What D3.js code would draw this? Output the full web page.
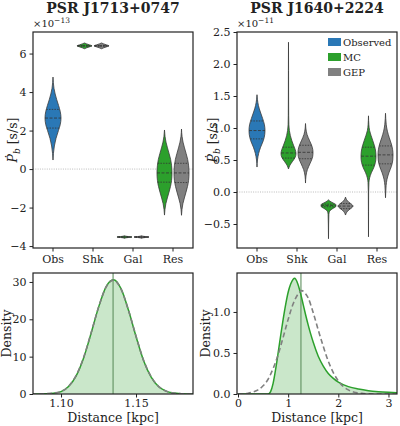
<!DOCTYPE html>
<html lang="en">
<head>
<meta charset="UTF-8">
<title>Pdot_b budget and distance PDFs</title>
<style>
  body { margin: 0; background: #fff; }
  svg text { font-family: "DejaVu Serif", serif; fill: #222; }
  .axis line { stroke: #222; stroke-width: 1; }
  .axis text { font-size: 11px; fill: #222; }
  .frame { fill: none; stroke: #222; stroke-width: 1.2; }
  .title { font-size: 14px; font-weight: bold; }
  .label { font-size: 12.5px; }
  .legend text { font-size: 10px; }
</style>
</head>
<body>
<div id="chart"></div>
<script src="https://cdn.jsdelivr.net/npm/d3@7"></script>
<script>
// categories and hues
var cats = ["Obs", "Shk", "Gal", "Res"];
var hues = ["Observed", "MC", "GEP"];
var hueColors = ["#2a78b6", "#2ca02c", "#808080"];

// ---- PSR J1713+0747 violins (x 1e-13 s/s), v = value, d = relative density, q = quartiles
var j1713_obs_v = [0.47, 0.8, 1.2, 1.6, 2.0, 2.3, 2.65, 3.0, 3.3, 3.6, 3.9, 4.2, 4.5, 4.78];
var j1713_obs_d = [0, 0.05, 0.17, 0.38, 0.68, 0.9, 1.0, 0.9, 0.7, 0.47, 0.27, 0.12, 0.04, 0];
var j1713_obs_q = [2.13, 2.65, 3.10];
var j1713_shk_mc_v = [6.25, 6.30, 6.35, 6.40, 6.45, 6.50, 6.55];
var j1713_shk_mc_d = [0, 0.3, 0.68, 1, 0.68, 0.3, 0];
var j1713_shk_mc_q = [6.38, 6.40, 6.42];
var j1713_shk_gep_v = [6.25, 6.30, 6.35, 6.40, 6.45, 6.50, 6.55];
var j1713_shk_gep_d = [0, 0.3, 0.68, 1, 0.68, 0.3, 0];
var j1713_shk_gep_q = [6.38, 6.40, 6.42];
var j1713_gal_mc_v = [-3.60, -3.565, -3.53, -3.495, -3.46];
var j1713_gal_mc_d = [0, 0.3, 1, 0.3, 0];
var j1713_gal_mc_q = [-3.54, -3.53, -3.52];
var j1713_gal_gep_v = [-3.60, -3.565, -3.53, -3.495, -3.46];
var j1713_gal_gep_d = [0, 0.3, 1, 0.3, 0];
var j1713_gal_gep_q = [-3.54, -3.53, -3.52];
var j1713_res_mc_v = [-2.39, -2.1, -1.8, -1.5, -1.2, -0.9, -0.6, -0.2, 0.2, 0.5, 0.8, 1.1, 1.4, 1.7, 2.03];
var j1713_res_mc_d = [0, 0.06, 0.18, 0.38, 0.6, 0.8, 0.94, 1.0, 0.94, 0.82, 0.62, 0.4, 0.2, 0.07, 0];
var j1713_res_mc_q = [-0.68, -0.2, 0.30];
var j1713_res_gep_v = [-2.40, -2.1, -1.8, -1.5, -1.2, -0.9, -0.6, -0.2, 0.2, 0.5, 0.8, 1.1, 1.4, 1.7, 2.08];
var j1713_res_gep_d = [0, 0.06, 0.18, 0.38, 0.6, 0.8, 0.94, 1.0, 0.94, 0.82, 0.62, 0.4, 0.2, 0.07, 0];
var j1713_res_gep_q = [-0.70, -0.2, 0.30];

// ---- PSR J1640+2224 violins (x 1e-11 s/s)
var j1640_obs_v = [0.39, 0.5, 0.6, 0.7, 0.8, 0.9, 0.96, 1.05, 1.15, 1.25, 1.35, 1.45, 1.52];
var j1640_obs_d = [0, 0.06, 0.2, 0.45, 0.78, 0.97, 1.0, 0.93, 0.7, 0.42, 0.18, 0.05, 0];
var j1640_obs_q = [0.83, 0.96, 1.11];
var j1640_shk_mc_v = [0.36, 0.42, 0.48, 0.54, 0.6, 0.66, 0.72, 0.8, 0.88, 0.96, 1.05, 1.2, 1.5, 1.9, 2.34];
var j1640_shk_mc_d = [0, 0.2, 0.55, 0.88, 1.0, 0.9, 0.7, 0.45, 0.25, 0.12, 0.05, 0.025, 0.015, 0.01, 0];
var j1640_shk_mc_q = [0.53, 0.61, 0.70];
var j1640_shk_gep_v = [0.14, 0.25, 0.35, 0.45, 0.55, 0.62, 0.7, 0.8, 0.9, 1.0, 1.07];
var j1640_shk_gep_d = [0, 0.06, 0.25, 0.62, 0.95, 1.0, 0.9, 0.55, 0.2, 0.04, 0];
var j1640_shk_gep_q = [0.52, 0.62, 0.73];
var j1640_gal_mc_v = [-0.73, -0.5, -0.35, -0.30, -0.26, -0.23, -0.20, -0.17, -0.14, -0.12];
var j1640_gal_mc_d = [0, 0.02, 0.05, 0.15, 0.55, 0.95, 1.0, 0.6, 0.15, 0];
var j1640_gal_mc_q = [-0.23, -0.21, -0.19];
var j1640_gal_gep_v = [-0.36, -0.32, -0.28, -0.25, -0.22, -0.19, -0.16, -0.12, -0.08];
var j1640_gal_gep_d = [0, 0.15, 0.45, 0.8, 1.0, 0.8, 0.45, 0.15, 0];
var j1640_gal_gep_q = [-0.26, -0.22, -0.18];
var j1640_res_mc_v = [-0.70, -0.3, 0.0, 0.15, 0.22, 0.3, 0.38, 0.46, 0.55, 0.64, 0.72, 0.8, 0.88, 0.96, 1.05, 1.19];
var j1640_res_mc_d = [0, 0.01, 0.02, 0.06, 0.15, 0.38, 0.7, 0.92, 1.0, 0.95, 0.8, 0.58, 0.35, 0.15, 0.05, 0];
var j1640_res_mc_q = [0.42, 0.56, 0.70];
var j1640_res_gep_v = [-0.09, 0.0, 0.1, 0.2, 0.3, 0.4, 0.5, 0.58, 0.66, 0.75, 0.85, 0.95, 1.05, 1.15, 1.23];
var j1640_res_gep_d = [0, 0.03, 0.08, 0.2, 0.45, 0.78, 0.97, 1.0, 0.95, 0.78, 0.5, 0.25, 0.1, 0.03, 0];
var j1640_res_gep_q = [0.44, 0.58, 0.72];

// ---- distance PDFs
var j1713_dist = [1.080, 1.085, 1.090, 1.095, 1.100, 1.105, 1.110, 1.115, 1.120, 1.125, 1.130, 1.135,
                  1.140, 1.145, 1.150, 1.155, 1.160, 1.165, 1.170, 1.175, 1.180, 1.185, 1.190];
var j1713_mc  = [0.0, 0.02, 0.07, 0.22, 0.65, 2.0, 4.8, 9.6, 16.2, 23.2, 28.7, 30.6,
                 28.2, 22.4, 15.4, 9.0, 4.6, 2.0, 0.76, 0.25, 0.07, 0.02, 0.0];
var j1713_gep = [0.0, 0.02, 0.08, 0.24, 0.68, 2.05, 4.9, 9.7, 16.3, 23.2, 28.6, 30.5,
                 28.1, 22.4, 15.5, 9.1, 4.7, 2.05, 0.78, 0.26, 0.08, 0.02, 0.0];
var j1713_mark = 1.1347;

var j1640_mc_dist = [0, 0.5, 0.6, 0.65, 0.70, 0.75, 0.80, 0.85, 0.90, 0.95, 1.00, 1.05, 1.10, 1.13, 1.15, 1.20,
                     1.25, 1.30, 1.35, 1.40, 1.45, 1.50, 1.60, 1.70, 1.80, 1.90, 2.00, 2.20, 2.40, 2.60, 2.80, 3.00, 3.17];
var j1640_mc = [0, 0, 0, 0.03, 0.13, 0.30, 0.50, 0.71, 0.91, 1.09, 1.24, 1.34, 1.40, 1.41, 1.40, 1.33,
                1.22, 1.09, 0.96, 0.84, 0.73, 0.63, 0.46, 0.34, 0.25, 0.19, 0.145, 0.09, 0.06, 0.04, 0.028, 0.02, 0.015];
var j1640_gep_dist = [0, 0.1, 0.2, 0.3, 0.4, 0.5, 0.6, 0.7, 0.8, 0.9, 1.0, 1.1, 1.2, 1.27, 1.35, 1.4,
                      1.5, 1.6, 1.7, 1.8, 1.9, 2.0, 2.1, 2.2, 2.3, 2.5, 2.7, 3.17];
var j1640_gep = [0, 0.003, 0.01, 0.025, 0.05, 0.10, 0.18, 0.31, 0.48, 0.69, 0.91, 1.10, 1.22, 1.26, 1.22, 1.17,
                 0.99, 0.78, 0.58, 0.40, 0.26, 0.16, 0.09, 0.05, 0.025, 0.006, 0.0, 0.0];
var j1640_mark = 1.255;

var W = 400, H = 426;
var color = d3.scaleOrdinal().domain(hues).range(hueColors);

var svg = d3.select("#chart").append("svg")
    .attr("width", W)
    .attr("height", H);

function violinPanel(cfg) {
  var x = d3.scaleBand().domain(cats).range([cfg.x0, cfg.x1]);
  var hx = d3.scaleBand().domain(["MC", "GEP"]).range([0, x.bandwidth()]).paddingOuter(0.175);
  var y = d3.scaleLinear().domain(cfg.ydom).range([cfg.y1, cfg.y0]);
  var g = svg.append("g");

  //zero line
  g.append("line")
    .attr("x1", cfg.x0).attr("x2", cfg.x1)
    .attr("y1", y(0)).attr("y2", y(0))
    .attr("stroke", "#aaa").attr("stroke-width", 0.8)
    .attr("stroke-dasharray", "1,1.3");

  cfg.violins.forEach(function(vi) {
    var obs = vi.hue === "Observed";
    var cx = obs ? x(vi.cat) + x.bandwidth() / 2 : x(vi.cat) + hx(vi.hue) + hx.bandwidth() / 2;
    var w = d3.scaleLinear().domain([0, 1]).range([0, obs ? 8 : 7.5]);
    var pts = vi.v.map(function(v, i) { return [v, vi.d[i]]; }).reverse();
    var area = d3.area()
        .curve(d3.curveMonotoneY)
        .y(function(p) { return y(p[0]); })
        .x0(function(p) { return cx - w(p[1]); })
        .x1(function(p) { return cx + w(p[1]); });
    g.append("path")
      .attr("d", area(pts))
      .attr("fill", color(vi.hue))
      .attr("stroke", "#3a3a3a")
      .attr("stroke-width", 0.8);
    // quartile lines
    var dens = d3.scaleLinear().domain(vi.v).range(vi.d);
    vi.q.forEach(function(q, k) {
      var hw = w(dens(q));
      g.append("line")
        .attr("x1", cx - hw).attr("x2", cx + hw)
        .attr("y1", y(q)).attr("y2", y(q))
        .attr("stroke", "#333").attr("stroke-width", 0.8)
        .attr("stroke-dasharray", k === 1 ? "3,1.5" : "1.5,1.2");
    });
  });

  // axes
  g.append("g").attr("class", "axis")
    .attr("transform", "translate(0," + cfg.y1 + ")")
    .call(d3.axisBottom(x).tickSize(3.5).tickPadding(3.5))
    .call(function(a) { a.select(".domain").remove(); });
  g.append("g").attr("class", "axis")
    .attr("transform", "translate(" + cfg.x0 + ",0)")
    .call(d3.axisLeft(y).tickValues(cfg.yticks).tickFormat(d3.format(cfg.yfmt)).tickSize(3.5).tickPadding(3))
    .call(function(a) { a.select(".domain").remove(); });
  g.append("rect").attr("class", "frame")
    .attr("x", cfg.x0).attr("y", cfg.y0)
    .attr("width", cfg.x1 - cfg.x0).attr("height", cfg.y1 - cfg.y0);

  // title
  g.append("text").attr("class", "title")
    .attr("x", (cfg.x0 + cfg.x1) / 2).attr("y", 13)
    .attr("text-anchor", "middle")
    .text(cfg.title);
  // offset text
  var off = g.append("text")
    .attr("x", cfg.x0).attr("y", 27)
    .style("font-size", "10px");
  off.append("tspan").text("×10");
  off.append("tspan").attr("dy", -4).style("font-size", "7.5px").text(cfg.exp);
  // y label
  var yl = g.append("text").attr("class", "label")
    .attr("transform", "translate(" + cfg.labx + "," + ((cfg.y0 + cfg.y1) / 2) + ") rotate(-90)")
    .attr("text-anchor", "middle");
  yl.append("tspan").style("font-style", "italic").text("Ṗ");
  yl.append("tspan").attr("dy", 3).style("font-style", "italic").style("font-size", "9px").text("b");
  yl.append("tspan").attr("dy", -3).text(" [s/s]");
  return g;
}

function densityPanel(cfg) {
  var x = d3.scaleLinear().domain(cfg.xdom).range([cfg.x0, cfg.x1]);
  var y = d3.scaleLinear().domain(cfg.ydom).range([cfg.y1, cfg.y0]);
  var g = svg.append("g");
  var clipId = "clip" + cfg.id;
  g.append("clipPath").attr("id", clipId)
    .append("rect")
    .attr("x", cfg.x0).attr("y", cfg.y0)
    .attr("width", cfg.x1 - cfg.x0).attr("height", cfg.y1 - cfg.y0);
  var plot = g.append("g").attr("clip-path", "url(#" + clipId + ")");

  var mc = cfg.mcX.map(function(d, i) { return [d, cfg.mcY[i]]; });
  var gep = cfg.gepX.map(function(d, i) { return [d, cfg.gepY[i]]; });

  plot.append("path")
    .attr("d", d3.area().curve(d3.curveMonotoneX)
      .x(function(p) { return x(p[0]); })
      .y0(y(0))
      .y1(function(p) { return y(p[1]); })(mc))
    .attr("fill", "#2ca02c").attr("fill-opacity", 0.25);
  plot.append("line")
    .attr("x1", x(cfg.mark)).attr("x2", x(cfg.mark))
    .attr("y1", cfg.y0).attr("y2", cfg.y1)
    .attr("stroke", "#5f905f").attr("stroke-width", 1.1);
  var line = d3.line().curve(d3.curveMonotoneX)
      .x(function(p) { return x(p[0]); })
      .y(function(p) { return y(p[1]); });
  plot.append("path").attr("d", line(mc))
    .attr("fill", "none").attr("stroke", "#2ca02c").attr("stroke-width", 1.5);
  plot.append("path").attr("d", line(gep))
    .attr("fill", "none").attr("stroke", "#808080").attr("stroke-width", 1.6)
    .attr("stroke-dasharray", "5,3");

  g.append("g").attr("class", "axis")
    .attr("transform", "translate(0," + cfg.y1 + ")")
    .call(d3.axisBottom(x).tickValues(cfg.xticks).tickFormat(d3.format(cfg.xfmt)).tickSize(3.5).tickPadding(2))
    .call(function(a) { a.select(".domain").remove(); });
  g.append("g").attr("class", "axis")
    .attr("transform", "translate(" + cfg.x0 + ",0)")
    .call(d3.axisLeft(y).tickValues(cfg.yticks).tickFormat(d3.format(cfg.yfmt)).tickSize(3.5).tickPadding(3))
    .call(function(a) { a.select(".domain").remove(); });
  g.append("rect").attr("class", "frame")
    .attr("x", cfg.x0).attr("y", cfg.y0)
    .attr("width", cfg.x1 - cfg.x0).attr("height", cfg.y1 - cfg.y0);

  g.append("text").attr("class", "label")
    .attr("x", (cfg.x0 + cfg.x1) / 2).attr("y", 421.5)
    .attr("text-anchor", "middle")
    .text("Distance [kpc]");
  g.append("text").attr("class", "label")
    .attr("transform", "translate(" + cfg.labx + "," + ((cfg.y0 + cfg.y1) / 2) + ") rotate(-90)")
    .attr("text-anchor", "middle")
    .text("Density");
}

function vio(cat, hue, v, d, q) { return {cat: cat, hue: hue, v: v, d: d, q: q}; }

violinPanel({
  x0: 33, x1: 193, y0: 32, y1: 248, labx: 16.5,
  ydom: [-4.10, 7.12], yticks: [-4, -2, 0, 2, 4, 6], yfmt: "d",
  title: "PSR J1713+0747", exp: "−13",
  violins: [
    vio("Obs", "Observed", j1713_obs_v, j1713_obs_d, j1713_obs_q),
    vio("Shk", "MC", j1713_shk_mc_v, j1713_shk_mc_d, j1713_shk_mc_q),
    vio("Shk", "GEP", j1713_shk_gep_v, j1713_shk_gep_d, j1713_shk_gep_q),
    vio("Gal", "MC", j1713_gal_mc_v, j1713_gal_mc_d, j1713_gal_mc_q),
    vio("Gal", "GEP", j1713_gal_gep_v, j1713_gal_gep_d, j1713_gal_gep_q),
    vio("Res", "MC", j1713_res_mc_v, j1713_res_mc_d, j1713_res_mc_q),
    vio("Res", "GEP", j1713_res_gep_v, j1713_res_gep_d, j1713_res_gep_q)
  ]
});

violinPanel({
  x0: 237, x1: 397, y0: 32, y1: 248, labx: 216.5,
  ydom: [-0.875, 2.5], yticks: [-0.5, 0, 0.5, 1.0, 1.5, 2.0, 2.5], yfmt: ".1f",
  title: "PSR J1640+2224", exp: "−11",
  violins: [
    vio("Obs", "Observed", j1640_obs_v, j1640_obs_d, j1640_obs_q),
    vio("Shk", "MC", j1640_shk_mc_v, j1640_shk_mc_d, j1640_shk_mc_q),
    vio("Shk", "GEP", j1640_shk_gep_v, j1640_shk_gep_d, j1640_shk_gep_q),
    vio("Gal", "MC", j1640_gal_mc_v, j1640_gal_mc_d, j1640_gal_mc_q),
    vio("Gal", "GEP", j1640_gal_gep_v, j1640_gal_gep_d, j1640_gal_gep_q),
    vio("Res", "MC", j1640_res_mc_v, j1640_res_mc_d, j1640_res_mc_q),
    vio("Res", "GEP", j1640_res_gep_v, j1640_res_gep_d, j1640_res_gep_q)
  ]
});

// legend
var leg = svg.append("g").attr("class", "legend");
hues.forEach(function(h, i) {
  var row = leg.append("g").attr("transform", "translate(328," + (42 + i * 15) + ")");
  row.append("rect").attr("x", 0).attr("y", -4).attr("width", 13).attr("height", 8)
    .attr("fill", color(h));
  row.append("text").attr("x", 15).attr("y", 3.5).text(h);
});

densityPanel({
  id: "a", x0: 33, x1: 193, y0: 273, y1: 394, labx: 10.5,
  xdom: [1.0813, 1.188], ydom: [0, 32.4],
  xticks: [1.10, 1.15], xfmt: ".2f", yticks: [0, 10, 20, 30], yfmt: "d",
  mcX: j1713_dist, mcY: j1713_mc, gepX: j1713_dist, gepY: j1713_gep, mark: j1713_mark
});

densityPanel({
  id: "b", x0: 237, x1: 397, y0: 273, y1: 394, labx: 210,
  xdom: [-0.02, 3.17], ydom: [0, 1.475],
  xticks: [0, 1, 2, 3], xfmt: "d", yticks: [0, 0.5, 1.0], yfmt: ".1f",
  mcX: j1640_mc_dist, mcY: j1640_mc, gepX: j1640_gep_dist, gepY: j1640_gep, mark: j1640_mark
});
</script>
</body>
</html>
